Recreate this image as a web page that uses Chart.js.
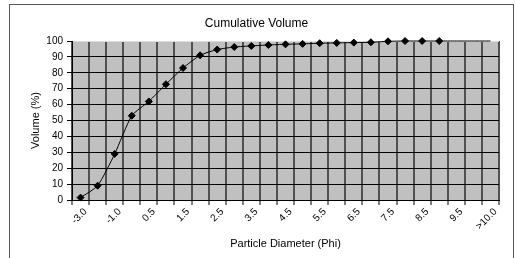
<!DOCTYPE html>
<html>
<head>
<meta charset="utf-8">
<script src="https://cdn.jsdelivr.net/npm/chart.js@4.4.1/dist/chart.umd.min.js"></script>
<style>
  html, body { margin: 0; padding: 0; background: #fff; }
</style>
</head>
<body>
<canvas id="chart" width="515" height="258"></canvas>
<script>
// particle size classes (phi) and cumulative volume
const categories = ['-3.0', '-2.0', '-1.0', '0.0', '0.5', '1.0', '1.5', '2.0', '2.5', '3.0',
    '3.5', '4.0', '4.5', '5.0', '5.5', '6.0', '6.5', '7.0', '7.5', '8.0',
    '8.5', '9.0', '9.5', '10.0', '>10.0'];
const cumulativeVolume = [1.5, 9, 29, 53, 62, 72.8, 83, 91, 94.6, 96.2,
    96.9, 97.5, 97.9, 98.2, 98.6, 98.8, 99.0, 99.2, 99.8, 100,
    100, 100, 100, 100, 100];
const yTicks = [0, 10, 20, 30, 40, 50, 60, 70, 80, 90, 100];
const markedPoints = 22; // last classes are drawn without markers

const FONT = 'Arial, "Liberation Sans", sans-serif';
Chart.defaults.color = '#000';
Chart.defaults.font.family = FONT;

const frame = {
    id: 'frame',
    beforeDraw(chart) {
        const ctx = chart.ctx;
        const a = chart.chartArea;
        ctx.save();
        ctx.fillStyle = '#c0c0c0';
        ctx.fillRect(a.left, a.top, a.right - a.left, a.bottom - a.top);
        ctx.strokeStyle = '#595959';
        ctx.lineWidth = 1;
        ctx.strokeRect(9.5, 4.5, 504, 400);
        ctx.restore();
    }
};

new Chart(document.getElementById('chart'), {
    type: 'line',
    data: {
        labels: categories,
        datasets: [{
            data: cumulativeVolume,
            borderColor: '#000',
            backgroundColor: '#000',
            borderWidth: 1,
            tension: 0.2,
            pointStyle: 'rectRot',
            pointRadius: ctx => ctx.dataIndex < markedPoints ? 3.5 : 0,
            pointHoverRadius: 0,
            clip: false
        }]
    },
    options: {
        responsive: false,
        animation: false,
        devicePixelRatio: 1,
        layout: { padding: { left: 14, right: 16, top: 0, bottom: 0 } },
        plugins: {
            legend: { display: false },
            tooltip: { enabled: false },
            title: {
                display: true,
                text: 'Cumulative Volume',
                color: '#000',
                font: { size: 12, weight: 'normal', family: FONT },
                padding: { top: 16, bottom: 10.6 }
            }
        },
        scales: {
            x: {
                offset: true,
                afterFit(scale) { scale.height = 58; },
                grid: {
                    offset: true,
                    color: '#505050',
                    lineWidth: 2,
                    tickColor: '#000',
                    tickWidth: 1,
                    tickLength: 5
                },
                border: { color: '#000', width: 1 },
                ticks: {
                    autoSkip: false,
                    maxRotation: 45,
                    minRotation: 45,
                    padding: 1,
                    labelOffset: 5,
                    font: { size: 10 },
                    callback: (v, i) => i % 2 === 0 ? categories[i] : ''
                },
                title: {
                    display: true,
                    text: 'Particle Diameter (Phi)',
                    font: { size: 11 },
                    padding: { top: 0, bottom: 7.4 }
                }
            },
            y: {
                min: 0,
                max: 100,
                afterFit(scale) { scale.width = 58; },
                afterBuildTicks(scale) { scale.ticks = yTicks.map(v => ({ value: v })); },
                grid: {
                    color: ctx => ctx.tick && ctx.tick.value === 100 ? '#dcdcdc' : '#000',
                    lineWidth: 1,
                    tickColor: '#000',
                    tickLength: 5
                },
                border: { color: '#000', width: 1 },
                ticks: { padding: 4, font: { size: 10 } },
                title: {
                    display: true,
                    text: 'Volume (%)',
                    font: { size: 11 },
                    padding: { top: 15.4, bottom: 0 }
                }
            }
        }
    },
    plugins: [frame]
});
</script>
</body>
</html>
